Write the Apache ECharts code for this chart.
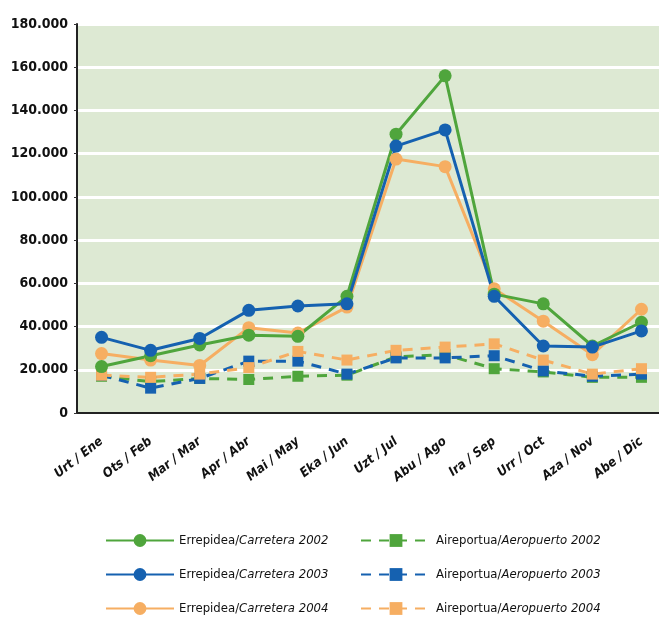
<!DOCTYPE html>
<html><head><meta charset="utf-8">
<script src="https://cdn.jsdelivr.net/npm/echarts@6/dist/echarts.min.js"></script>
<style>html,body{margin:0;padding:0;background:#fff;overflow:hidden}#c{width:666px;height:620px}</style>
</head><body><div id="c"></div>
<script>
const categories = ['Urt / Ene','Ots / Feb','Mar / Mar','Apr / Abr','Mai / May','Eka / Jun','Uzt / Jul','Abu / Ago','Ira / Sep','Urr / Oct','Aza / Nov','Abe / Dic'];
const errepidea2002 = [21500, 26500, 31500, 36000, 35500, 54000, 129000, 156000, 55000, 50500, 31000, 42000];
const errepidea2003 = [35000, 29000, 34500, 47500, 49500, 50500, 123500, 131000, 54000, 31000, 30500, 38000];
const errepidea2004 = [27500, 24500, 22000, 39500, 37000, 49000, 117500, 114000, 57500, 42500, 27000, 48000];
const aeropuerto2002 = [17000, 14500, 16000, 15500, 17000, 17500, 26000, 27000, 20500, 19000, 16500, 16500];
const aeropuerto2003 = [17500, 11500, 16000, 24000, 24000, 18000, 25500, 25500, 26500, 19500, 17000, 18000];
const aeropuerto2004 = [17500, 16500, 18000, 21000, 28500, 24500, 29000, 30500, 32000, 24500, 18000, 20500];
const yTicks = [0, 20000, 40000, 60000, 80000, 100000, 120000, 140000, 160000, 180000];

const FONT = '"Liberation Sans Narrow","DejaVu Sans Condensed","Roboto Condensed","Liberation Sans",sans-serif';
const GREEN = '#4fa53c', BLUE = '#1561b0', ORANGE = '#f6ae62';

function solid(name, data, color) {
  return {name, type: 'line', data, symbol: 'circle', symbolSize: 13,
    itemStyle: {color}, lineStyle: {color, width: 3}, z: 3};
}
function dashed(name, data, color) {
  return {name, type: 'line', data, symbol: 'rect', symbolSize: 11,
    itemStyle: {color}, lineStyle: {color, width: 3, type: [10, 8]}, z: 2};
}
const names = {
  e2: 'Errepidea/|Carretera 2002', e3: 'Errepidea/|Carretera 2003', e4: 'Errepidea/|Carretera 2004',
  a2: 'Aireportua/|Aeropuerto 2002', a3: 'Aireportua/|Aeropuerto 2003', a4: 'Aireportua/|Aeropuerto 2004'
};
const legendText = {
  fontFamily: FONT, fontSize: 13, color: '#111',
  rich: {n: {fontFamily: FONT, fontSize: 13, color: '#111'},
         i: {fontFamily: FONT, fontSize: 13, color: '#111', fontStyle: 'italic'}}
};
const fmtLegend = n => { const p = n.split('|'); return '{n|' + p[0] + '}{i|' + p[1] + '}'; };

const chart = echarts.init(document.getElementById('c'), null, {renderer: 'canvas'});
chart.setOption({
  animation: false,
  backgroundColor: '#fff',
  grid: {left: 77, right: 0, top: 24, bottom: 207, show: true, backgroundColor: '#dde9d3', borderWidth: 0},
  xAxis: {
    type: 'category', data: categories, boundaryGap: true,
    axisLine: {lineStyle: {color: '#222', width: 2}},
    axisTick: {length: 8, lineStyle: {color: '#555', width: 1}},
    axisLabel: {rotate: 38, margin: 27, fontFamily: FONT, fontSize: 13, fontStyle: 'italic', fontWeight: 'bold', color: '#111'}
  },
  yAxis: {
    type: 'value', min: yTicks[0], max: yTicks[yTicks.length - 1], interval: yTicks[1] - yTicks[0],
    axisLine: {show: true, lineStyle: {color: '#222', width: 2}},
    axisTick: {show: true, length: 3, lineStyle: {color: '#333'}},
    splitLine: {show: true, lineStyle: {color: '#ffffff', width: 3}},
    axisLabel: {margin: 9, fontFamily: FONT, fontSize: 14, fontWeight: 'bold', color: '#111',
      formatter: v => v === 0 ? '0' : String(v).replace(/\B(?=(\d{3})+(?!\d))/g, '.')}
  },
  legend: [
    {data: [names.e2, names.e3, names.e4], orient: 'vertical', left: 100, top: 529, itemWidth: 68, itemHeight: 16,
     itemGap: 21, textStyle: legendText, formatter: fmtLegend},
    {data: [names.a2, names.a3, names.a4], orient: 'vertical', left: 355, top: 529, itemWidth: 70, itemHeight: 16,
     itemGap: 21, textStyle: legendText, formatter: fmtLegend}
  ],
  series: [
    dashed(names.a2, aeropuerto2002, GREEN),
    dashed(names.a3, aeropuerto2003, BLUE),
    dashed(names.a4, aeropuerto2004, ORANGE),
    solid(names.e4, errepidea2004, ORANGE),
    solid(names.e2, errepidea2002, GREEN),
    solid(names.e3, errepidea2003, BLUE)
  ]
});
</script></body></html>
